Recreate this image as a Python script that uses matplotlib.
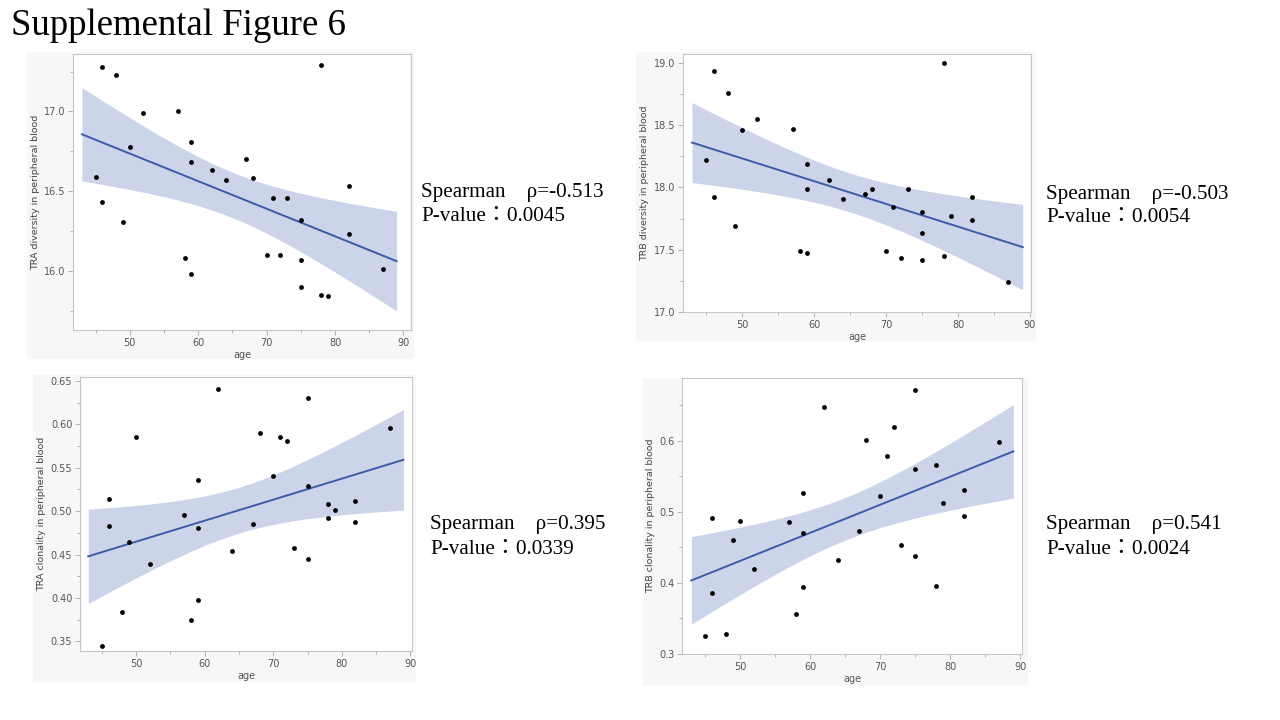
import numpy as np
import matplotlib
matplotlib.use("Agg")
import matplotlib.pyplot as plt
from matplotlib.patches import Rectangle
from matplotlib.ticker import AutoMinorLocator, FormatStrFormatter

# ---------------- data ----------------
age = [45, 46, 46, 48, 49, 50, 52, 57, 58, 59, 59, 59, 62, 64, 67, 68,
       70, 71, 72, 73, 75, 75, 75, 78, 78, 79, 82, 82, 87]

tra_diversity = [16.59, 17.28, 16.43, 17.23, 16.31, 16.78, 16.99, 17.00, 16.08,
                 16.81, 16.68, 15.98, 16.63, 16.57, 16.70, 16.58, 16.10, 16.46,
                 16.10, 16.46, 16.32, 16.07, 15.90, 17.29, 15.85, 15.84, 16.53,
                 16.23, 16.01]

trb_diversity = [18.22, 18.93, 17.92, 18.76, 17.69, 18.46, 18.55, 18.47, 17.49,
                 18.19, 17.99, 17.47, 18.06, 17.91, 17.95, 17.99, 17.49, 17.84,
                 17.43, 17.99, 17.80, 17.63, 17.42, 19.00, 17.45, 17.77, 17.92,
                 17.74, 17.24]

tra_clonality = [0.345, 0.514, 0.483, 0.384, 0.465, 0.585, 0.439, 0.496, 0.375,
                 0.536, 0.481, 0.398, 0.641, 0.454, 0.485, 0.590, 0.540, 0.585,
                 0.581, 0.457, 0.630, 0.529, 0.445, 0.508, 0.492, 0.501, 0.512,
                 0.488, 0.596]

trb_clonality = [0.326, 0.492, 0.386, 0.328, 0.460, 0.487, 0.419, 0.486, 0.357,
                 0.526, 0.470, 0.394, 0.648, 0.432, 0.473, 0.601, 0.522, 0.579,
                 0.620, 0.453, 0.672, 0.560, 0.438, 0.566, 0.396, 0.512, 0.531,
                 0.495, 0.598]

ylabels = ["TRA diversity in peripheral blood", "TRB diversity in peripheral blood",
           "TRA clonality in peripheral blood", "TRB clonality in peripheral blood"]
rho_text = ["ρ=-0.513", "ρ=-0.503", "ρ=0.395", "ρ=0.541"]
p_text = ["0.0045", "0.0054", "0.0339", "0.0024"]
xticks = [50, 60, 70, 80, 90]
yticks_list = [[16.0, 16.5, 17.0], [17.0, 17.5, 18.0, 18.5, 19.0],
               [0.35, 0.40, 0.45, 0.50, 0.55, 0.60, 0.65], [0.3, 0.4, 0.5, 0.6]]
yfmt = ["%.1f", "%.1f", "%.2f", "%.1f"]
series = [tra_diversity, trb_diversity, tra_clonality, trb_clonality]

# ---------------- layout (pixels) ----------------
W, H = 1280, 720
outer_px = [(27, 52, 414, 359), (636, 52, 1036, 342), (33, 375, 416, 682), (643, 378, 1028, 686)]
axes_px = [(73, 54, 411, 330), (683, 54, 1031, 312), (80, 377, 412, 651), (682, 378, 1022, 654)]
xlims = [(41.7, 91.1), (41.75, 90.15), (41.8, 90.25), (41.67, 90.24)]
ylims = [(15.63, 17.36), (17.0, 19.07), (0.3388, 0.6546), (0.3, 0.6886)]
text_pos = [(421, 192), (1046, 194), (430, 525), (1046, 525)]

fig = plt.figure(figsize=(W / 100, H / 100), dpi=100)
fig.patch.set_facecolor("white")

fig.text(11 / W, 1 - 26 / H, "Supplemental Figure 6", fontsize=26.5,
         family="Liberation Serif", va="center", ha="left", color="black")

def fbox(b):
    x0, y0, x1, y1 = b
    return [x0 / W, 1 - y1 / H, (x1 - x0) / W, (y1 - y0) / H]

t_crit = 2.052  # t(0.975, df=27)

for i in range(4):
    ob = fbox(outer_px[i])
    fig.patches.append(Rectangle((ob[0], ob[1]), ob[2], ob[3], transform=fig.transFigure,
                                 facecolor="#f7f7f7", edgecolor="none", zorder=-5))
    ax = fig.add_axes(fbox(axes_px[i]))
    ax.set_zorder(2)
    ax.set_facecolor("white")
    x = np.array(age, dtype=float)
    y = np.array(series[i], dtype=float)
    n = len(x)
    b1, b0 = np.polyfit(x, y, 1)
    resid = y - (b0 + b1 * x)
    s = np.sqrt(np.sum(resid ** 2) / (n - 2))
    sxx = np.sum((x - x.mean()) ** 2)
    xf = np.linspace(43, 89, 200)
    yf = b0 + b1 * xf
    se = s * np.sqrt(1 / n + (xf - x.mean()) ** 2 / sxx)
    ax.fill_between(xf, yf - t_crit * se, yf + t_crit * se, color="#cbd4e9", lw=0, zorder=1)
    ax.plot(xf, yf, color="#3d5ba9", lw=1.4, zorder=2)
    ax.scatter(x, y, s=12, color="black", zorder=3, linewidths=0)

    ax.set_xlim(*xlims[i])
    ax.set_ylim(*ylims[i])
    ax.set_xticks(xticks)
    ax.set_yticks(yticks_list[i])
    ax.xaxis.set_minor_locator(AutoMinorLocator(2))
    ax.yaxis.set_minor_locator(AutoMinorLocator(2))
    ax.yaxis.set_major_formatter(FormatStrFormatter(yfmt[i]))
    ax.tick_params(which="both", direction="out", color="#a8a8a8", labelcolor="#555555",
                   labelsize=7, width=0.6)
    ax.tick_params(which="major", length=3.5, pad=2)
    ax.tick_params(which="minor", length=2)
    for sp in ax.spines.values():
        sp.set_color("#c6c6c6")
        sp.set_linewidth(0.8)
    ax.set_xlabel("age", fontsize=7, color="#555555", labelpad=1.5)
    ax.set_ylabel(ylabels[i], fontsize=6.8, color="#444444", labelpad=3)

    tx, ty = text_pos[i]
    fam = ["Liberation Serif", "Noto Sans CJK JP"]
    fig.text(tx / W, 1 - ty / H, "Spearman\u3000" + rho_text[i], fontsize=15.2,
             family=fam, va="center", ha="left")
    fig.text(tx / W, 1 - (ty + 24) / H, "P-value\uff1a" + p_text[i], fontsize=15.2,
             family=fam, va="center", ha="left")

fig.savefig("out.png", dpi=100, facecolor="white")
